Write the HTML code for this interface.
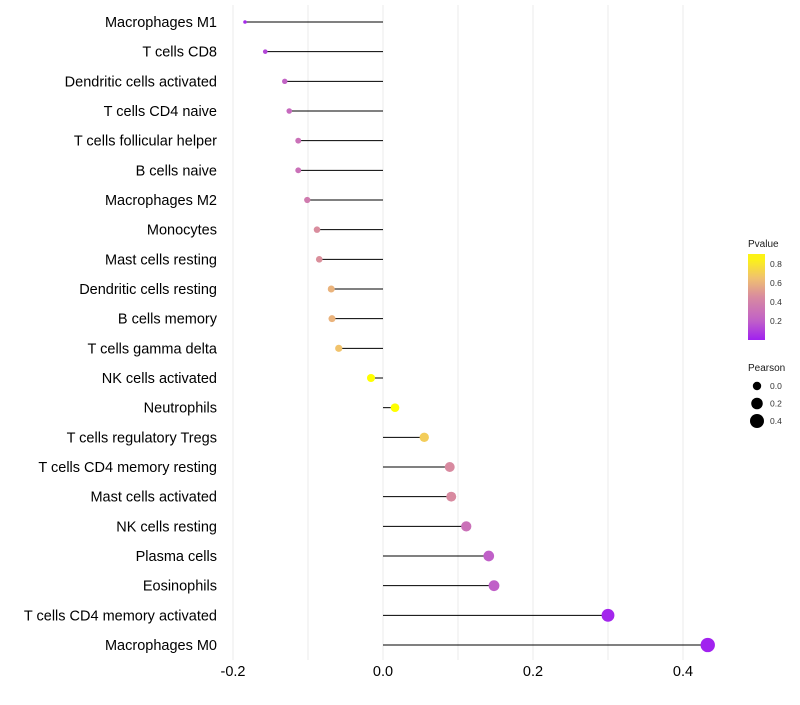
<!DOCTYPE html>
<html><head><meta charset="utf-8"><style>
body{margin:0;background:#fff;font-family:"Liberation Sans",sans-serif}
</style></head><body>
<svg id="c" width="800" height="700" xmlns="http://www.w3.org/2000/svg" font-family="Liberation Sans, sans-serif"></svg>
<script>
const categories=["Macrophages M1","T cells CD8","Dendritic cells activated","T cells CD4 naive","T cells follicular helper","B cells naive","Macrophages M2","Monocytes","Mast cells resting","Dendritic cells resting","B cells memory","T cells gamma delta","NK cells activated","Neutrophils","T cells regulatory  Tregs ","T cells CD4 memory resting","Mast cells activated","NK cells resting","Plasma cells","Eosinophils","T cells CD4 memory activated","Macrophages M0"];
const pearson=[-0.184,-0.157,-0.131,-0.125,-0.113,-0.113,-0.101,-0.088,-0.085,-0.069,-0.068,-0.059,-0.016,0.016,0.055,0.089,0.091,0.111,0.141,0.148,0.300,0.433];
const pvalues=[0.03,0.12,0.22,0.26,0.3,0.3,0.36,0.46,0.47,0.6,0.6,0.66,0.9,0.9,0.7,0.45,0.45,0.3,0.2,0.2,0.02,0.005];
const xTicks=[-0.2,0.0,0.2,0.4];
const legendP=[0.2,0.4,0.6,0.8];
const legendR=[0.0,0.2,0.4];
const NS="http://www.w3.org/2000/svg",svg=document.getElementById("c");
const x=v=>383+v*750, y=i=>22+i*(623/21);
const rad=p=>Math.sqrt(Math.max(2,17.6+78.5*p));
const stops=[[0,[160,32,240]],[0.2,[192,96,200]],[0.45,[216,138,160]],[0.65,[240,192,112]],[0.9,[255,255,0]]];
function col(p){p=Math.max(0,Math.min(0.9,p));for(let k=1;k<stops.length;k++){if(p<=stops[k][0]){const a=stops[k-1],b=stops[k],t=(p-a[0])/(b[0]-a[0]);return "rgb("+a[1].map((c,j)=>Math.round(c+(b[1][j]-c)*t)).join(",")+")";}}return "rgb(255,255,0)";}
function el(t,a,txt){const e=document.createElementNS(NS,t);for(const k in a)e.setAttribute(k,a[k]);if(txt!=null)e.textContent=txt;svg.appendChild(e);return e;}
for(let v=-0.2;v<=0.451;v+=0.1){const g=el("line",{x1:x(v),x2:x(v),y1:5,y2:660,stroke:"#ebebeb","stroke-width":1});

}
categories.forEach((c,i)=>{
const t=el("text",{x:217,y:y(i)+5,"text-anchor":"end","font-size":14.5,fill:"#000"},c);


const s=el("line",{x1:x(0),x2:x(pearson[i]),y1:y(i),y2:y(i),stroke:"#000","stroke-width":1});


const d=el("circle",{cx:x(pearson[i]),cy:y(i),r:rad(pearson[i]),fill:col(pvalues[i])});


});
xTicks.forEach(v=>{const t=el("text",{x:x(v),y:676,"text-anchor":"middle","font-size":14.5,fill:"#000"},v.toFixed(1));

});
const defs=el("defs",{});const lg=document.createElementNS(NS,"linearGradient");lg.setAttribute("id","g");lg.setAttribute("x1","0");lg.setAttribute("x2","0");lg.setAttribute("y1","1");lg.setAttribute("y2","0");defs.appendChild(lg);
const py=p=>340-p*95;
for(let p=0;p<=0.9;p+=0.05){const s=document.createElementNS(NS,"stop");s.setAttribute("offset",(p/0.905).toFixed(3));s.setAttribute("stop-color",col(p));lg.appendChild(s);}
const lt=el("text",{x:748,y:247,"font-size":10,fill:"#1a1a1a"},"Pvalue");


const cb=el("rect",{x:748,y:254,width:17,height:86,fill:"url(#g)"});


legendP.forEach(p=>{const t=el("text",{x:770,y:py(p)+3,"font-size":8.5,fill:"#333"},p.toFixed(1));

});
const st=el("text",{x:748,y:371,"font-size":10,fill:"#1a1a1a"},"Pearson");


legendR.forEach((p,k)=>{const cy=386+k*17.5;
const d=el("circle",{cx:757,cy:cy,r:rad(p),fill:"#000"});


const t=el("text",{x:770,y:cy+3,"font-size":8.5,fill:"#333"},p.toFixed(1));

});
</script>
</body></html>
